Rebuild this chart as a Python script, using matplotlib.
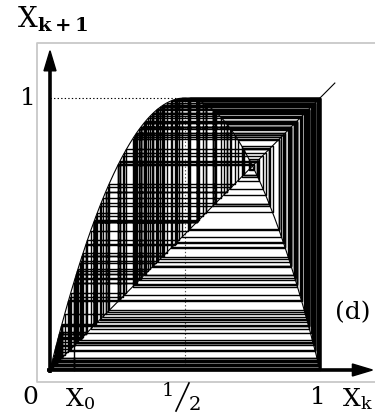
import numpy as np
import matplotlib
matplotlib.use("Agg")
import matplotlib.pyplot as plt
from matplotlib.patches import Polygon

# Logistic map x_{k+1} = r x_k (1 - x_k) and the starting point of the orbit
r = 4.0
x0 = 0.088
n_steps = 200

plt.rcParams["mathtext.fontset"] = "dejavuserif"
plt.rcParams["font.family"] = "DejaVu Serif"

W, H = 375, 416
fig = plt.figure(figsize=(W / 100, H / 100), dpi=100)
ax = fig.add_axes([0, 0, 1, 1])
ax.axis("off")

# pixel geometry: x=0 at 50px, x=1 at 320px; y=0 at 370px, y=1 at 98px (from top)
sx, sy = 270.0, 272.0
ax.set_xlim(-50 / sx, (W - 50) / sx)
ax.set_ylim((370 - H) / sy, 370 / sy)


def px(xp):
    return (xp - 50) / sx


def py(yp):
    return (370 - yp) / sy


def f(x):
    return r * x * (1 - x)


# gray frame
fx0, fy0, fy1 = px(37), py(382), py(43)
ax.plot([1.4, fx0, fx0, 1.4], [fy1, fy1, fy0, fy0], color="#c8c8c8", lw=1.3,
        solid_capstyle="butt", zorder=1)

# cobweb orbit
xs, ys = [x0], [0.0]
x = x0
for _ in range(n_steps):
    y = f(x)
    xs += [x, y]
    ys += [y, y]
    x = y
ax.plot(xs, ys, color="black", lw=1.0, zorder=3)

# map curve and diagonal
t = np.linspace(0, 1, 400)
ax.plot(t, f(t), color="black", lw=0.8, zorder=4)
ax.plot([0, 1.055], [0, 1.055], color="black", lw=0.8, zorder=4)

# dotted guides to the maximum
ax.plot([0, 0.5], [1, 1], color="black", lw=0.8, ls=(0, (1.2, 2)), zorder=2)
ax.plot([0.5, 0.5], [0, 1], color="#555555", lw=0.8, ls=(0, (1.2, 2)), zorder=2)

# axes with arrow heads
ax.plot([0, 0], [-0.01, 1.10], color="black", lw=2.6, solid_capstyle="butt", zorder=5)
ax.plot([-0.01, 1.12], [0, 0], color="black", lw=2.6, solid_capstyle="butt", zorder=5)
hw, hl = 6 / sx, 20 / sy
ax.add_patch(Polygon([[-hw, 1.10], [hw, 1.10], [0, 1.10 + hl]], closed=True,
                     color="black", zorder=5))
hw2, hl2 = 6 / sy, 20 / sx
ax.add_patch(Polygon([[1.12, -hw2], [1.12, hw2], [1.12 + hl2, 0]], closed=True,
                     color="black", zorder=5))

fs = 18

ax.text(px(17), py(19), r"$\mathrm{X}_{\mathbf{k+1}}$", fontsize=20, ha="left", va="center")
ax.text(px(28), 1.0, "1", fontsize=fs, ha="center", va="center")
ax.text(px(30), py(397), "0", fontsize=fs, ha="center", va="center")
ax.text(px(80), py(399), r"$\mathrm{X}_{0}$", fontsize=fs, ha="center", va="center")
# the fraction 1/2 built from raised 1, slash and lowered 2
ax.text(px(168), py(391), "1", fontsize=14, ha="center", va="center")
ax.plot([px(176), px(189)], [py(411), py(383)], color="black", lw=1.2)
ax.text(px(195), py(405), "2", fontsize=14, ha="center", va="center")
ax.text(px(318), py(397), "1", fontsize=fs, ha="center", va="center")
ax.text(px(357), py(399), r"$\mathrm{X}_{\mathrm{k}}$", fontsize=fs, ha="center", va="center")
ax.text(px(353), py(313), "(d)", fontsize=fs, ha="center", va="center")

fig.savefig("out.png", dpi=100)
